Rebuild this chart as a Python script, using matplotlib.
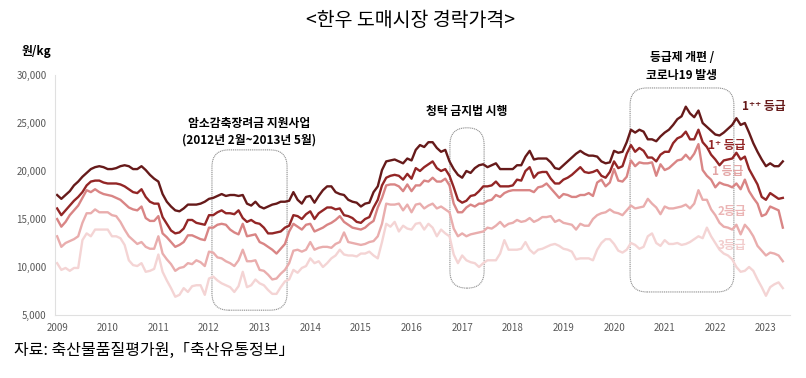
"Hanwoo wholesale auction price by grade, 2009-2023 (monthly)."
import matplotlib
matplotlib.use("Agg")
import matplotlib.pyplot as plt
from matplotlib.patches import FancyBboxPatch

plt.rcParams['font.family'] = ['Noto Sans CJK KR', 'DejaVu Sans']

# monthly, 2009-01 .. 2023-05, thousand won / kg
grade_1pp = [
    17.5, 17.1, 17.5, 17.9, 18.5, 18.9, 19.4, 19.8, 20.2, 20.4, 20.5, 20.4,
    20.2, 20.2, 20.3, 20.5, 20.6, 20.5, 20.2, 20.2, 20.5, 20.1, 19.6, 19.2,
    18.9, 17.6, 16.8, 16.3, 15.9, 15.8, 16.1, 16.5, 16.5, 16.5, 16.6, 16.8,
    17.1, 17.2, 17.4, 17.6, 17.4, 17.5, 17.5, 17.4, 17.5, 16.6, 16.4, 16.8,
    16.3, 16.1, 16.3, 16.5, 16.6, 16.8, 16.8, 16.9, 17.8, 17.0, 16.6, 17.3,
    17.4, 16.7, 17.4, 18.0, 18.4, 18.4, 17.8, 17.6, 17.5, 17.0, 16.8, 16.7,
    16.3, 16.6, 16.7, 17.8, 18.4, 20.1, 21.0, 21.1, 21.2, 21.0, 20.8, 21.3,
    21.1, 22.2, 22.7, 22.5, 23.0, 23.0, 22.4, 22.0, 22.2, 21.0, 20.2, 19.6,
    19.3, 20.0, 19.8, 20.3, 20.6, 20.7, 20.4, 20.6, 20.8, 20.2, 20.2, 20.2,
    20.2, 20.6, 20.6, 21.5, 22.1, 21.2, 21.3, 21.3, 21.3, 20.9, 20.3, 20.2,
    20.6, 21.0, 21.4, 21.8, 22.1, 21.8, 21.6, 21.6, 21.5, 21.0, 20.8, 20.9,
    22.1, 21.9, 22.0, 23.0, 24.3, 24.0, 24.3, 24.1, 23.3, 23.3, 23.1, 23.6,
    24.0, 24.3, 24.8, 25.4, 25.7, 26.7, 26.0, 25.6, 26.3, 25.0, 24.6, 24.2,
    23.8, 23.7, 24.0, 24.4, 24.8, 25.5, 24.8, 25.0, 24.0, 22.9, 22.0, 21.2,
    20.5, 20.8, 20.5, 20.5, 21.0,
]
grade_1p = [
    16.1, 15.4, 15.9, 16.4, 16.9, 17.3, 17.8, 18.5, 18.9, 19.0, 19.0, 18.8,
    18.7, 18.7, 18.7, 18.6, 18.4, 18.1, 17.8, 17.7, 18.1, 17.3, 16.8, 16.6,
    16.6, 15.2, 14.5, 13.8, 13.5, 13.6, 14.0, 14.9, 14.9, 14.6, 14.5, 14.4,
    15.4, 15.4, 15.7, 15.9, 15.6, 15.6, 15.5, 15.9, 15.1, 14.7, 14.9, 14.6,
    14.5, 14.1, 13.5, 13.5, 13.6, 13.7, 14.1, 14.3, 15.4, 15.3, 15.0, 15.5,
    15.8, 15.0, 15.6, 15.9, 16.2, 16.2, 16.0, 16.1, 15.4, 15.3, 15.1, 14.7,
    14.6, 15.0, 15.2, 16.2, 17.0, 18.5, 19.3, 19.5, 19.6, 19.5, 19.1, 19.7,
    19.2, 20.3, 20.0, 20.4, 20.7, 21.0, 20.3, 20.0, 20.2, 19.5, 18.3, 17.0,
    16.7, 16.9, 17.4, 17.5, 17.9, 18.4, 18.4, 18.5, 18.9, 18.4, 18.4, 18.4,
    18.5, 19.1, 19.0, 20.0, 20.4, 19.3, 19.8, 19.9, 19.9, 19.2, 18.7, 18.7,
    19.1, 19.3, 19.6, 20.0, 20.4, 19.9, 19.8, 19.9, 20.1, 19.5, 19.3, 19.9,
    21.0, 20.3, 20.5, 21.8, 22.7, 22.0, 22.4, 22.1, 21.4, 21.4, 21.0, 21.7,
    22.0, 22.0, 22.9, 23.4, 23.6, 24.1, 23.3, 23.3, 24.3, 23.0, 22.5, 21.7,
    21.2, 20.6, 21.1, 21.2, 21.3, 21.9, 21.2, 21.5, 20.2, 19.4, 18.6, 17.3,
    17.0, 17.7, 17.4, 17.1, 17.2,
]
grade_1 = [
    15.0, 14.2, 14.7, 15.4, 15.9, 16.4, 17.2, 18.0, 17.8, 18.1, 17.8, 17.6,
    17.5, 17.4, 17.2, 17.0, 16.6, 16.2, 16.0, 15.9, 16.3, 15.1, 14.8, 14.8,
    15.3, 13.5, 13.1, 12.6, 12.1, 12.3, 12.6, 13.3, 13.3, 13.1, 12.9, 12.8,
    14.1, 14.1, 14.4, 14.5, 14.4, 13.9, 13.6, 13.4, 14.5, 13.2, 13.3, 13.4,
    12.6, 12.4, 12.1, 11.8, 11.4, 11.9, 12.4, 13.7, 14.5, 14.2, 13.9, 14.4,
    14.5, 13.7, 13.9, 14.1, 14.4, 14.6, 14.9, 15.3, 14.7, 14.4, 14.1, 14.0,
    13.9, 14.1, 14.5, 14.8, 16.2, 17.2, 18.5, 18.6, 18.6, 18.4, 17.9, 18.6,
    17.9, 18.5, 18.5, 19.0, 18.9, 19.3, 18.9, 18.9, 19.2, 18.5, 16.6, 15.7,
    15.7, 16.2, 16.5, 16.3, 16.6, 16.6, 16.9, 17.0, 17.5, 17.3, 17.7, 17.9,
    18.0, 18.0, 18.0, 18.0, 18.0, 17.8, 18.3, 18.4, 18.7, 18.2, 17.7, 17.2,
    17.6, 17.5, 17.3, 17.3, 17.5, 17.5, 17.7, 17.4, 18.8, 19.1, 18.4, 18.8,
    20.2, 19.0, 18.9, 19.4, 21.1, 20.5, 20.9, 20.8, 20.8, 20.9, 19.5, 20.7,
    20.1, 20.3, 20.7, 21.1, 21.2, 21.7, 21.2, 21.8, 22.8, 20.1, 19.5, 19.1,
    18.3, 18.8, 18.6, 18.5, 18.3, 18.7, 18.1, 19.1, 17.9, 17.2, 16.6, 15.3,
    15.5, 16.3, 16.1, 15.9, 14.1,
]
grade_2 = [
    13.2, 12.1, 12.5, 12.7, 12.9, 13.2, 14.6, 15.6, 15.6, 16.0, 15.7, 15.7,
    15.7, 15.4, 15.3, 14.7, 13.9, 13.2, 12.8, 12.4, 12.6, 12.1, 11.9, 11.9,
    13.2, 11.4, 10.8, 10.3, 9.6, 9.9, 10.0, 10.4, 10.3, 10.7, 10.5, 10.1,
    11.6, 11.5, 11.0, 10.9, 10.6, 10.4, 10.1, 10.7, 11.8, 10.6, 10.6, 10.7,
    9.7, 9.6, 9.2, 8.7, 8.8, 9.3, 9.7, 10.4, 11.7, 11.8, 11.6, 11.8,
    12.6, 11.8, 12.0, 12.1, 12.1, 12.0, 12.4, 12.6, 13.6, 12.6, 12.5, 12.4,
    12.3, 12.4, 12.6, 12.7, 13.2, 14.5, 16.6, 16.5, 16.5, 16.6, 15.9, 16.5,
    15.7, 16.5, 16.6, 16.1, 16.4, 16.6, 16.1, 16.3, 16.0, 15.7, 14.0, 13.2,
    13.5, 13.2, 13.4, 13.5, 13.6, 13.7, 14.1, 14.0, 14.3, 14.7, 14.2, 14.5,
    14.6, 14.9, 14.7, 14.8, 15.1, 14.7, 14.9, 15.2, 15.2, 15.3, 14.7, 14.9,
    14.6, 14.5, 14.4, 13.9, 14.5, 14.3, 14.3, 15.0, 15.4, 15.6, 15.7, 16.0,
    15.7, 15.6, 15.4, 15.9, 16.4, 16.1, 16.2, 16.3, 17.1, 16.6, 16.2, 15.5,
    16.3, 16.1, 16.1, 16.2, 16.3, 16.5, 16.1, 16.6, 18.0, 17.0, 17.0, 16.0,
    15.4, 14.6, 14.2, 14.1, 13.9, 14.4, 13.4, 14.4, 13.9, 13.2, 12.2, 11.7,
    11.2, 11.5, 11.4, 11.2, 10.6,
]
grade_3 = [
    10.4, 9.7, 9.9, 9.6, 9.9, 9.9, 12.8, 13.5, 13.2, 13.9, 13.9, 13.9,
    13.9, 13.2, 13.2, 13.0, 12.3, 10.7, 10.2, 10.1, 10.4, 9.5, 9.6, 9.8,
    11.3, 9.5, 8.6, 7.8, 6.9, 7.1, 7.8, 7.4, 8.0, 8.1, 8.1, 7.1,
    8.8, 9.0, 8.6, 8.3, 8.1, 7.9, 7.4, 8.0, 9.5, 7.9, 8.1, 8.7,
    8.3, 8.1, 7.6, 7.2, 7.2, 7.9, 8.5, 8.7, 9.7, 9.4, 9.9, 10.1,
    10.9, 10.4, 10.6, 10.0, 10.4, 10.9, 11.2, 11.8, 11.3, 11.2, 11.2, 11.1,
    11.4, 11.4, 11.6, 11.2, 10.9, 12.6, 14.5, 14.2, 14.7, 13.7, 14.3, 14.0,
    13.9, 14.5, 14.6, 13.9, 14.5, 14.1, 13.2, 13.9, 13.5, 13.2, 11.3, 10.4,
    11.2, 10.7, 10.5, 10.4, 10.0, 10.4, 10.7, 10.7, 10.7, 11.4, 12.8, 11.8,
    11.8, 11.8, 11.9, 12.6, 11.8, 11.4, 11.8, 11.9, 12.1, 12.3, 12.4, 12.2,
    11.9, 11.8, 11.6, 10.8, 10.9, 10.9, 10.9, 10.7, 11.8, 12.5, 12.9, 12.9,
    12.4, 11.7, 11.5, 11.8, 12.5, 12.3, 11.9, 12.1, 13.2, 13.5, 12.5, 12.2,
    12.8, 12.4, 12.4, 12.5, 12.3, 12.4, 12.6, 12.9, 13.2, 13.0, 14.1, 13.2,
    12.5, 11.8, 11.4, 11.2, 10.8, 10.0, 9.5, 9.6, 10.0, 9.6, 8.7, 7.9,
    7.0, 7.9, 8.2, 8.4, 7.8,
]
years = list(range(2009, 2024))

series = [
    (grade_1pp, '#661a1a', '1⁺⁺ 등급', '#661a1a', (162.3, 26700)),
    (grade_1p, '#932626', '1⁺ 등급', '#932626', (154.3, 22700)),
    (grade_1, '#d98585', '1 등급', '#e3a5a5', (155.2, 19900)),
    (grade_2, '#e9adad', '2등급', '#ebb5b5', (156.6, 15800)),
    (grade_3, '#f4d4d4', '3등급', '#f2cccc', (156.6, 12200)),
]

# event boxes: month index range and value range
boxes = [
    (36.7, 54.5, 5500, 22200),
    (93.1, 101.2, 7800, 24500),
    (135.8, 160.4, 7400, 28650),
]

fig = plt.figure(figsize=(8.06, 3.78), dpi=100)
ax = fig.add_axes([55 / 806, 1 - 315 / 378, 735 / 806, 240 / 378])

for vals, color, label, tcolor, pos in series:
    xs = list(range(len(vals)))
    ys = [v * 1000 for v in vals]
    ax.plot(xs, ys, color=color, lw=1.7, solid_joinstyle='round')
    ax.text(pos[0], pos[1], label, color=tcolor, fontsize=8.5,
            fontweight='bold', va='center', ha='left')

ax.set_xlim(-0.5, 173.7)
ax.set_ylim(5000, 30000)

# aspect between the two data units so the corners stay round
aspect = (25000 / 240) / (174.2 / 735)
for x0, x1, y0, y1 in boxes:
    ax.add_patch(FancyBboxPatch((x0, y0), x1 - x0, y1 - y0,
                                boxstyle="round,pad=0,rounding_size=4",
                                mutation_aspect=aspect, fill=False,
                                ec='#8f8f8f', lw=0.8, ls=(0, (1, 0.7))))

ax.text(45.6, 25000, '암소감축장려금 지원사업', ha='center', va='center',
        fontsize=8.5, fontweight='bold')
ax.text(45.6, 23250, '(2012년 2월~2013년 5월)', ha='center',
        va='center', fontsize=8.5, fontweight='bold')
ax.text(97.1, 26150, '청탁 금지법 시행', ha='center', va='center',
        fontsize=8.5, fontweight='bold')
ax.text(148.1, 31850, '등급제 개편 /', ha='center', va='center',
        fontsize=8.5, fontweight='bold', clip_on=False)
ax.text(148.1, 29900, '코로나19 발생', ha='center', va='center',
        fontsize=8.5, fontweight='bold', clip_on=False)

ax.set_xticks([12 * i for i in range(len(years))])
ax.set_xticklabels([str(y) for y in years])
ax.set_yticks(range(5000, 30001, 5000))
ax.set_yticklabels([f'{v:,}' for v in range(5000, 30001, 5000)])
ax.tick_params(length=0, labelsize=7, colors='#595959', pad=6)

for s in ['top', 'right']:
    ax.spines[s].set_visible(False)
for s in ['left', 'bottom']:
    ax.spines[s].set_color('#e0e0e0')
    ax.spines[s].set_linewidth(0.8)

fig.text(410 / 806, 1 - 20 / 378, '<한우 도매시장 경락가격>', ha='center',
         va='center', fontsize=14)
fig.text(22 / 806, 1 - 52 / 378, '원/kg', ha='left', va='center',
         fontsize=8.5, fontweight='bold')
fig.text(14 / 806, 1 - 350 / 378, '자료: 축산물품질평가원,「축산유통정보」',
         ha='left', va='center', fontsize=11.5)

fig.savefig('out.png', dpi=100)
